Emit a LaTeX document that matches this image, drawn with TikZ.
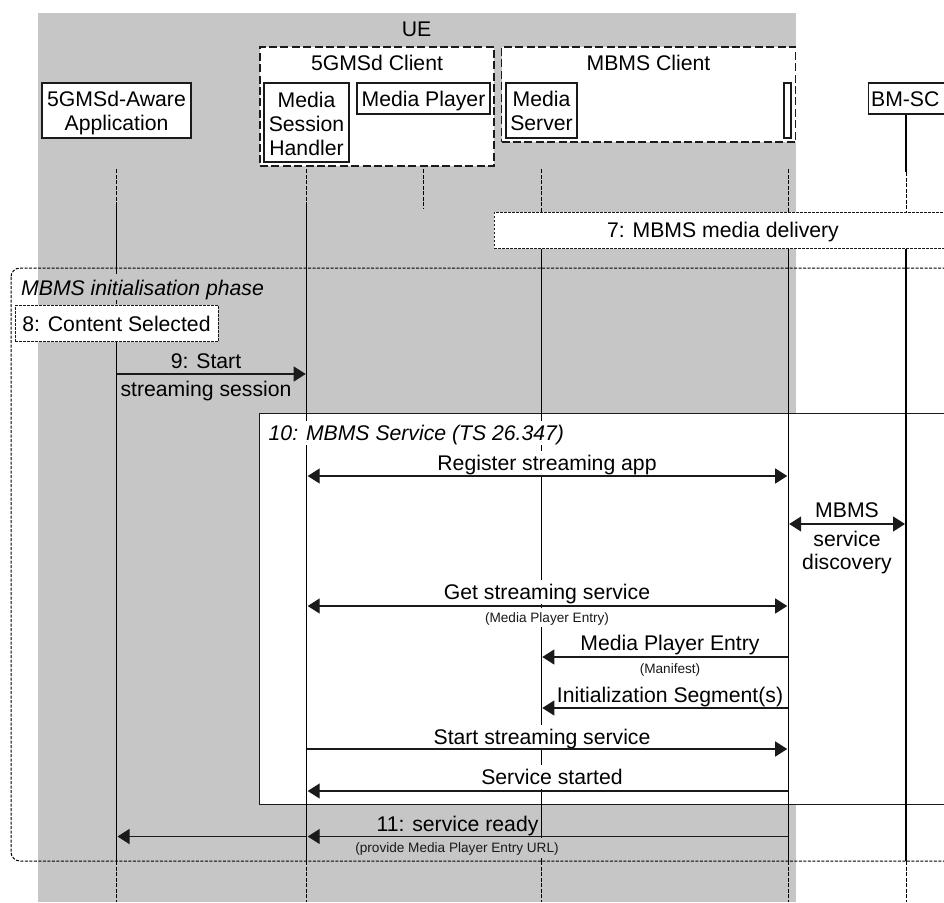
\documentclass[tikz,border=0pt]{standalone}
\usepackage{fontspec}
\setmainfont{Liberation Sans}
\usetikzlibrary{arrows.meta}
\definecolor{uegrey}{HTML}{C6C6C6}
\definecolor{ink}{HTML}{1A1A1A}
\newcommand{\bigfont}{\fontsize{21.2}{24}\selectfont}
\newcommand{\smallfont}{\fontsize{13.6}{16}\selectfont}
\newcommand{\up}[1]{\rule{0pt}{#1pt}}
\tikzset{
  box/.style={draw=ink,line width=1.25pt,fill=white,inner sep=0pt,align=center,font=\bigfont,text=black},
  client/.style={draw=ink,line width=1.1pt,fill=white,dash pattern=on 8pt off 3.4pt,inner sep=0pt},
  note/.style={draw=ink,line width=1pt,fill=white,dash pattern=on 2.6pt off 1.4pt,inner sep=0pt,font=\bigfont,text=black},
  life/.style={draw=black,line width=1.15pt},
  lifedash/.style={draw=black,line width=1pt,dash pattern=on 4pt off 1.5pt},
  msg/.style={draw=ink,line width=1.2pt},
  tip/.style={-{Triangle[length=12pt,width=15pt]},shorten >=1pt},
  tiptwo/.style={{Triangle[length=12pt,width=15pt]}-{Triangle[length=12pt,width=15pt]},shorten >=1pt,shorten <=1pt},
  lab/.style={anchor=base,inner sep=0pt,font=\bigfont,text=black,align=center},
  labw/.style={lab,fill=white,inner xsep=1pt,inner ysep=1pt,text height=18.3pt,text depth=3.7pt},
  sm/.style={anchor=base,inner sep=0pt,font=\smallfont,text=black!90},
}
\begin{document}
\begin{tikzpicture}[x=1pt,y=-1pt]
\useasboundingbox (0,0) rectangle (944,902);
\clip (0,0) rectangle (944,902);
\fill[uegrey] (38,13) rectangle (796,902);
% lifeline positions
\coordinate (La) at (116.5,0);
\coordinate (Lh) at (306.7,0);
\coordinate (Lp) at (423,0);
\coordinate (Ls) at (541.3,0);
\coordinate (Lc) at (788.2,0);
\coordinate (Lb) at (906,0);
\node[lab] (ue) at (416.5,36.7) {UE};
% client frames
\node[client,minimum width=234pt,minimum height=119pt] (gc) at (377,106.5) {};
\node[lab] (gcl) at (377,70) {5GMSd Client};
\node[client,minimum width=294pt,minimum height=95pt] (mc) at (648.5,94.5) {};
\node[lab] (mcl) at (648.5,70) {MBMS Client};
% heads
\node[box,minimum width=149pt,minimum height=55pt] (aware) at (116.5,110.5) {\up{20.9}5GMSd-Aware\\Application};
\node[box,minimum width=85pt,minimum height=79pt] (msh) at (306.5,122.5) {\up{17.5}Media\\Session\\Handler};
\node[box,minimum width=133pt,minimum height=31pt] (mp) at (423.5,98.5) {\up{20.9}Media Player};
\node[box,minimum width=71pt,minimum height=55pt] (ms) at (541.5,110.5) {\up{16.7}Media\\Server};
\node[box,minimum width=7pt,minimum height=55pt] (thin) at (787.5,110.5) {};
\node[box,minimum width=78pt,minimum height=31pt,anchor=west,text width=78pt,align=left] (bm) at (867.5,98.5) {\up{16.4}\hspace{3pt}BM-SC};
% frame 10
\node[draw=ink,line width=1.1pt,fill=white,inner sep=0pt,minimum width=700pt,minimum height=391.5pt,anchor=north west] (svc) at (259,412.5) {};
% lifelines: dashed heads
\draw[lifedash] (La |- 0,169) -- (La |- 0,203);
\draw[lifedash] (Lh |- 0,169) -- (Lh |- 0,203);
\draw[lifedash] (Lp |- 0,169) -- (Lp |- 0,209);
\draw[lifedash] (Ls |- 0,169) -- (Ls |- 0,212);
\draw[lifedash] (Lc |- 0,169) -- (Lc |- 0,212);
\draw[lifedash] (Lb |- 0,172) -- (Lb |- 0,212);
\draw[life] (bm.south -| Lb) -- (Lb |- 0,172);
% lifelines: solid
\draw[life] (La |- 0,203) -- (La |- 0,274);
\draw[lifedash] (La |- 0,300) -- (La |- 0,306);
\draw[life] (La |- 0,342) -- (La |- 0,861);
\draw[life] (Lh |- 0,203) -- (Lh |- 0,861);
\draw[life] (Ls |- 0,248) -- (Ls |- 0,861);
\draw[life] (Lc |- 0,248) -- (Lc |- 0,861);
\draw[life] (Lb |- 0,248) -- (Lb |- 0,861);
\draw[lifedash] (La |- 0,861) -- (La |- 0,902);
\draw[lifedash] (Lh |- 0,861) -- (Lh |- 0,902);
\draw[lifedash] (Ls |- 0,861) -- (Ls |- 0,902);
\draw[lifedash] (Lc |- 0,861) -- (Lc |- 0,902);
\draw[lifedash] (Lb |- 0,861) -- (Lb |- 0,902);
% notes
\node[note,minimum width=480pt,minimum height=36.5pt,anchor=north west] (n7) at (493.5,211.5) {};
\node[lab] (n7l) at (723,237.7) {7: MBMS media delivery};
\node[note,minimum width=203pt,minimum height=36.5pt] (n8) at (116.5,323.7) {\up{16}8: Content Selected};
% phase frame
\draw[draw=black,line width=1pt,dash pattern=on 3pt off 1.5pt,rounded corners=9pt] (11,268) rectangle (960,861);
\node[lab,anchor=base west,font=\bigfont\itshape] (phase) at (21,295.7) {MBMS initialisation phase};
% labels
\node[lab] (m9a) at (206,368.3) {9: Start};
\node[lab] (m9b) at (206,396) {streaming session};
\node[labw,anchor=base west,font=\bigfont\itshape] (m10) at (267.5,440.7) {10: MBMS Service (TS 26.347)};
\node[labw] (reg) at (547,470) {Register streaming app};
\node[lab] (dis1) at (847,517.7) {MBMS};
\node[lab] (dis2) at (847,546) {service};
\node[lab] (dis3) at (847,569.3) {discovery};
\node[labw] (get) at (547,599.3) {Get streaming service};
\node[sm,fill=white,inner xsep=1pt,inner ysep=1pt,text height=13.5pt,text depth=3.2pt] (gets) at (547,622.3) {(Media Player Entry)};
\node[lab] (mpe) at (670,650.3) {Media Player Entry};
\node[sm] (man) at (670,673.3) {(Manifest)};
\node[lab] (seg) at (670,702) {Initialization Segment(s)};
\node[labw] (st) at (542,744) {Start streaming service};
\node[labw] (sd) at (552,784.3) {Service started};
\node[lab] (r11) at (457.5,831.7) {11: service ready};
\node[sm,fill=uegrey,inner xsep=0pt,inner ysep=1pt,text height=13.5pt,text depth=4.7pt] (r11s) at (457,852.3) {(provide Media Player Entry URL)};
% messages
\draw[msg,tip] (La |- 0,374) -- (Lh |- 0,374);
\draw[msg,tiptwo] (Lh |- 0,476) -- (Lc |- 0,476);
\draw[msg,tiptwo] (Lc |- 0,524) -- (Lb |- 0,524);
\draw[msg,tiptwo] (Lh |- 0,606) -- (Lc |- 0,606);
\draw[msg,tip] (Lc |- 0,657) -- (Ls |- 0,657);
\draw[msg,tip] (Lc |- 0,708) -- (Ls |- 0,708);
\draw[msg,tip] (Lh |- 0,749) -- (Lc |- 0,749);
\draw[msg,tip] (Lc |- 0,791) -- (Lh |- 0,791);
\draw[msg,tip] (Lc |- 0,836.5) -- (Lh |- 0,836.5);
\draw[msg,tip] (Lh |- 0,836.5) -- (La |- 0,836.5);
\end{tikzpicture}
\end{document}
